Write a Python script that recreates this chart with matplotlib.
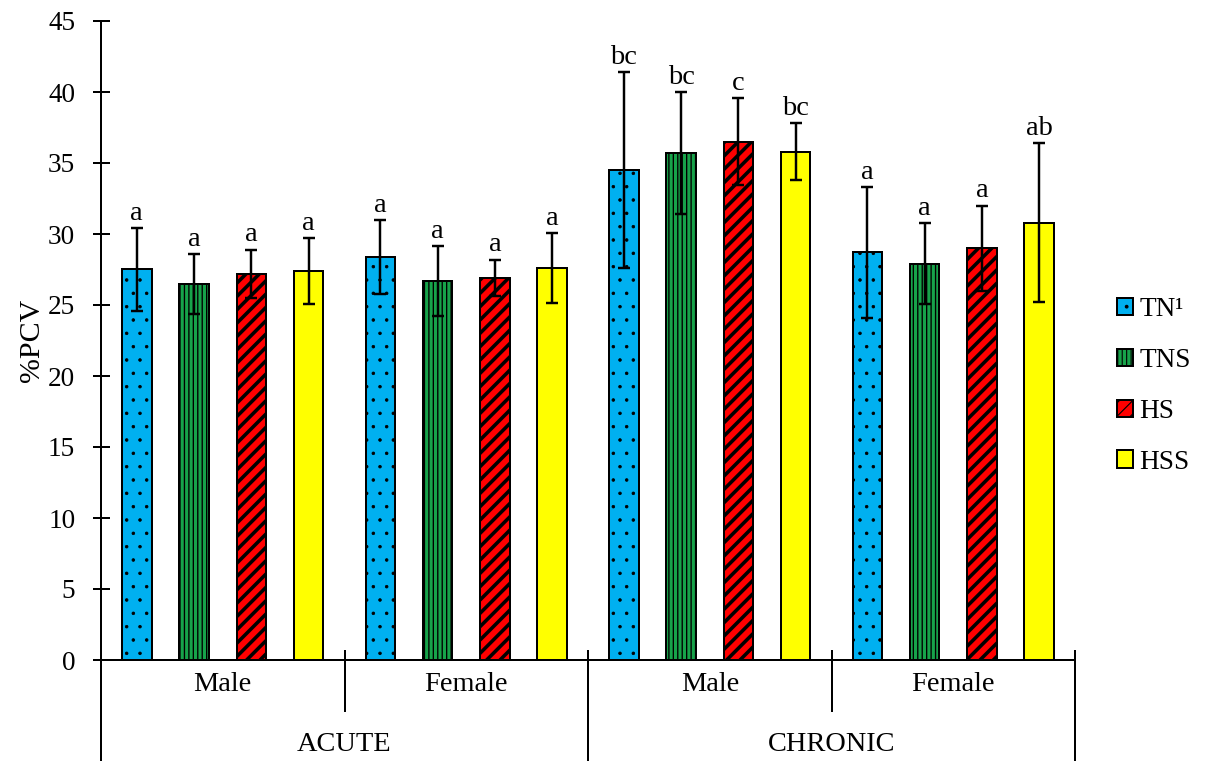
import matplotlib
matplotlib.use("Agg")
import matplotlib.pyplot as plt
import matplotlib.transforms as mtransforms

# data
groups = ["Male", "Female", "Male", "Female"]
periods = ["ACUTE", "CHRONIC"]
treatments = ["TN\u00b9", "TNS", "HS", "HSS"]

tn = [27.5, 28.4, 34.5, 28.7]
tns = [26.5, 26.7, 35.7, 27.9]
hs = [27.2, 26.9, 36.5, 29.0]
hss = [27.4, 27.6, 35.8, 30.8]

tn_err = [2.9, 2.6, 6.9, 4.6]
tns_err = [2.1, 2.45, 4.3, 2.85]
hs_err = [1.7, 1.3, 3.05, 3.0]
hss_err = [2.3, 2.45, 2.0, 5.6]

tn_letters = ["a", "a", "bc", "a"]
tns_letters = ["a", "a", "bc", "a"]
hs_letters = ["a", "a", "c", "a"]
hss_letters = ["a", "a", "bc", "ab"]

values = [tn, tns, hs, hss]
errors = [tn_err, tns_err, hs_err, hss_err]
letters = [tn_letters, tns_letters, hs_letters, hss_letters]

colors = ["#00B0F0", "#17A34A", "#FF0000", "#FFFF00"]
hatches = [".", "|||", "//", ""]
hatch_widths = [0.7, 1.2, 3.2, 1.0]

DPI = 80
plt.rcParams["font.family"] = ["Liberation Serif", "DejaVu Serif"]

fig = plt.figure(figsize=(1209 / DPI, 761 / DPI), dpi=DPI)
ax = fig.add_axes([101 / 1209, 101 / 761, 974 / 1209, 639 / 761])

offsets = [-0.353, -0.118, 0.118, 0.353]
width = 0.121

for k in range(len(treatments)):
    xs = [g + 0.5 + offsets[k] for g in range(len(groups))]
    plt.rcParams["hatch.linewidth"] = hatch_widths[k]
    bars = ax.bar(xs, values[k], width, color=colors[k], edgecolor="black",
                  linewidth=1.8, hatch=hatches[k], label=treatments[k], zorder=2)
    for b in bars:
        if hasattr(b, "set_hatch_linewidth"):
            b.set_hatch_linewidth(hatch_widths[k])
    ax.errorbar(xs, values[k], yerr=errors[k], fmt="none", ecolor="black",
                elinewidth=2.2, capsize=5.2, capthick=2.2, zorder=3)
    for x, v, e, t in zip(xs, values[k], errors[k], letters[k]):
        ax.annotate(t, (x, v + e), xytext=(0, 2), textcoords="offset points",
                    ha="center", va="bottom", fontsize=25.5)

ax.set_xlim(0, 4)
ax.set_ylim(0, 45)
ax.set_yticks(range(0, 46, 5))
ax.set_xticks([])
ax.tick_params(axis="y", direction="inout", length=15.3, width=1.8,
               pad=15.5, labelsize=24.5)
for side in ["top", "right"]:
    ax.spines[side].set_visible(False)
for side in ["left", "bottom"]:
    ax.spines[side].set_linewidth(1.8)

ax.set_ylabel("%PCV", fontsize=27)
ax.yaxis.set_label_coords(-0.058, 0.5)

# two-level category axis
trans = mtransforms.blended_transform_factory(ax.transData, ax.transAxes)
for g in range(len(groups)):
    ax.text(g + 0.5, -0.039, groups[g], transform=trans, ha="center",
            va="center", fontsize=25.5)
for p in range(len(periods)):
    ax.text(2 * p + 1, -0.133, periods[p], transform=trans, ha="center",
            va="center", fontsize=25.5)
for x in [0, 2, 4]:
    ax.plot([x, x], [0.014, -0.16], transform=trans, color="black",
            lw=1.8, clip_on=False)
for x in [1, 3]:
    ax.plot([x, x], [0.014, -0.080], transform=trans, color="black",
            lw=1.8, clip_on=False)

fig.legend(loc="center left", bbox_to_anchor=(1117 / 1209, 0.493),
           frameon=False, fontsize=24.5, handlelength=0.6, handleheight=0.6,
           handletextpad=0.22, labelspacing=0.95, borderpad=0, borderaxespad=0)

fig.savefig("out.png", dpi=DPI)
